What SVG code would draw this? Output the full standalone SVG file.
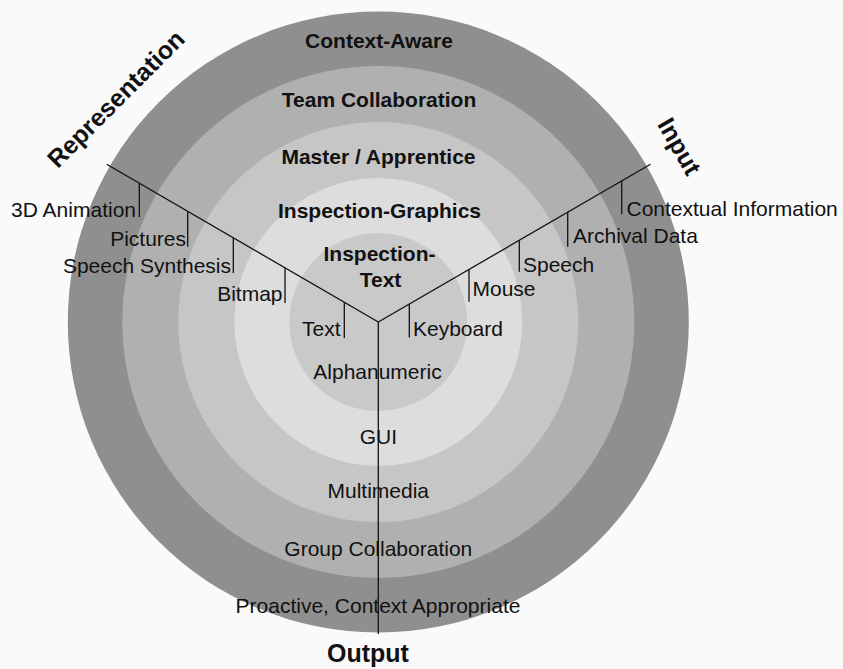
<svg xmlns="http://www.w3.org/2000/svg" width="843" height="669" viewBox="0 0 843 669">
  <style>
    .lbl { font-family: "Liberation Sans", Arial, sans-serif; font-size: 21px; fill: #111; }
    .bold { font-family: "Liberation Sans", Arial, sans-serif; font-size: 21px; font-weight: bold; fill: #111; text-anchor: middle; }
    .axis { font-family: "Liberation Sans", Arial, sans-serif; font-size: 25px; font-weight: bold; fill: #111; text-anchor: middle; }
    .mid { text-anchor: middle; }
    .end { text-anchor: end; }
    .ln { stroke: #111; stroke-width: 1.3; fill: none; }
  </style>
  <rect x="0" y="0" width="843" height="669" fill="#fafafa"/>

  <g id="ring-context-aware">
    <circle cx="378.3" cy="322" r="310.5" fill="#8f8f8f"/>
    <text class="bold" x="379" y="48.3">Context-Aware</text>
    <text class="lbl mid" x="378" y="613.3">Proactive, Context Appropriate</text>
  </g>
  <g id="ring-team-collaboration">
    <circle cx="378.3" cy="322" r="256" fill="#b0b0b0"/>
    <text class="bold" x="379" y="106.5">Team Collaboration</text>
    <text class="lbl mid" x="378.3" y="555.7">Group Collaboration</text>
  </g>
  <g id="ring-master-apprentice">
    <circle cx="378.3" cy="322" r="200" fill="#c6c6c6"/>
    <text class="bold" x="378.5" y="164.3">Master / Apprentice</text>
    <text class="lbl mid" x="378.3" y="498.3">Multimedia</text>
  </g>
  <g id="ring-inspection-graphics">
    <circle cx="378.3" cy="322" r="144" fill="#dddddd"/>
    <text class="bold" x="379.5" y="217.7">Inspection-Graphics</text>
    <text class="lbl mid" x="378.3" y="444">GUI</text>
  </g>
  <g id="ring-inspection-text">
    <circle cx="378.3" cy="322" r="89" fill="#c9c9c9"/>
    <text class="bold" x="379.5" y="261">Inspection-</text>
    <text class="bold" x="380.5" y="286.7">Text</text>
    <text class="lbl mid" x="377.5" y="379">Alphanumeric</text>
  </g>

  <g id="connectors">
    <line class="ln" x1="378.3" y1="322" x2="106.7" y2="164.3"/>
    <line class="ln" x1="378.3" y1="322" x2="650.5" y2="164.3"/>
    <line class="ln" x1="378.3" y1="322" x2="378.3" y2="634"/>
    <!-- representation ticks -->
    <line class="ln" x1="139.3" y1="183.1" x2="139.3" y2="217"/>
    <line class="ln" x1="187.7" y1="211.3" x2="187.7" y2="246.7"/>
    <line class="ln" x1="233.3" y1="237.8" x2="233.3" y2="273"/>
    <line class="ln" x1="285" y1="267.8" x2="285" y2="303"/>
    <line class="ln" x1="344.3" y1="302.2" x2="344.3" y2="338"/>
    <!-- input ticks -->
    <line class="ln" x1="409.3" y1="304" x2="409.3" y2="337.5"/>
    <line class="ln" x1="469" y1="269.3" x2="469" y2="301.7"/>
    <line class="ln" x1="519.3" y1="240.1" x2="519.3" y2="271.7"/>
    <line class="ln" x1="567.7" y1="212" x2="567.7" y2="246.7"/>
    <line class="ln" x1="621.7" y1="180.6" x2="621.7" y2="214.3"/>
  </g>

  <g id="axis-representation">
    <text class="axis" transform="translate(122,105) rotate(-45)">Representation</text>
    <text class="lbl end" x="136" y="217">3D Animation</text>
    <text class="lbl end" x="186" y="246">Pictures</text>
    <text class="lbl end" x="231" y="272.5">Speech Synthesis</text>
    <text class="lbl end" x="282.5" y="301">Bitmap</text>
    <text class="lbl end" x="340.5" y="336">Text</text>
  </g>
  <g id="axis-input">
    <text class="axis" transform="translate(672,150.7) rotate(60)">Input</text>
    <text class="lbl" x="413" y="336">Keyboard</text>
    <text class="lbl" x="472.5" y="296">Mouse</text>
    <text class="lbl" x="523" y="271.5">Speech</text>
    <text class="lbl" x="573" y="243">Archival Data</text>
    <text class="lbl" x="626.5" y="216">Contextual Information</text>
  </g>
  <g id="axis-output">
    <text class="axis" x="368" y="662.3">Output</text>
  </g>
</svg>
